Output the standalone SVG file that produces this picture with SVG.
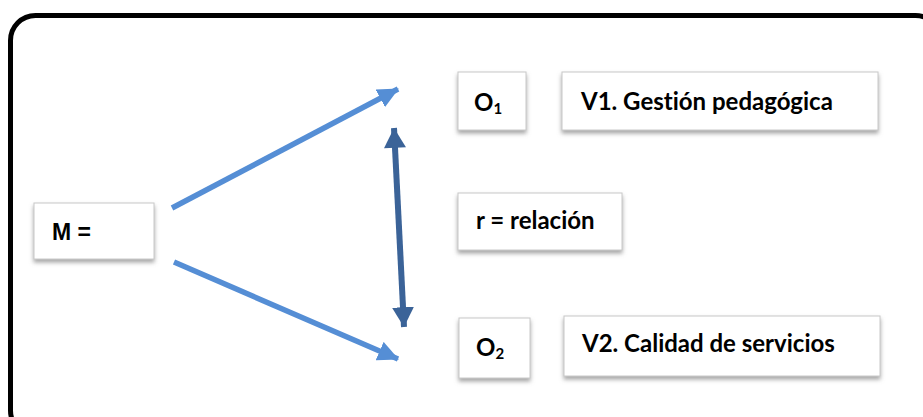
<svg xmlns="http://www.w3.org/2000/svg" width="923" height="417" viewBox="0 0 923 417">
<style>
.box{fill:#ffffff;stroke:#c8c8c8;stroke-width:1;filter:url(#sh)}
.t{font-family:Lato,"Open Sans","Liberation Sans",sans-serif;font-weight:bold;font-size:24px;fill:#000;font-variant-ligatures:none}
.m{font-family:"Liberation Sans",Arial,sans-serif;font-size:23px}
.sub{font-size:15px}
.a1{stroke:#558ed5;stroke-width:5.5;fill:none}
.a2{stroke:#3b6398;stroke-width:6;fill:none}
</style>
<defs>
<filter id="sh" x="-20%" y="-20%" width="140%" height="160%">
<feDropShadow dx="0" dy="3" stdDeviation="2" flood-color="#7f7f7f" flood-opacity="0.7"/>
</filter>
<marker id="h1" markerUnits="userSpaceOnUse" markerWidth="24" markerHeight="20" refX="20" refY="10" orient="auto" viewBox="0 0 24 20">
<path d="M0,0 L21,10 L0,20 Z" fill="#558ed5"/>
</marker>
<marker id="h2e" markerUnits="userSpaceOnUse" markerWidth="22" markerHeight="22" refX="18" refY="10" orient="auto" viewBox="0 0 20 20">
<path d="M0,0 L18,10 L0,20 Z" fill="#3b6398"/>
</marker>
<marker id="h2s" markerUnits="userSpaceOnUse" markerWidth="22" markerHeight="22" refX="0" refY="10" orient="auto" viewBox="0 0 20 20">
<path d="M18,0 L0,10 L18,20 Z" fill="#3b6398"/>
</marker>
</defs>
<rect x="0" y="0" width="923" height="417" fill="#ffffff"/>
<rect id="frame" x="10.5" y="15.5" width="930" height="420" rx="25" ry="25" fill="none" stroke="#000" stroke-width="5"/>
<g id="connectors">
<line class="a1" x1="172" y1="208" x2="398" y2="89" marker-end="url(#h1)"/>
<line class="a1" x1="174" y1="262" x2="398" y2="359" marker-end="url(#h1)"/>
<line class="a2" x1="394" y1="128" x2="404" y2="327" marker-start="url(#h2s)" marker-end="url(#h2e)"/>
</g>
<g id="M">
<rect class="box" x="34" y="203" width="120" height="56"/>
<text class="t m" x="52" y="240">M =</text>
</g>
<g id="O1">
<rect class="box" x="458" y="72" width="68" height="58"/>
<text class="t" x="474" y="111">O<tspan class="sub" dy="3">1</tspan></text>
</g>
<g id="V1">
<rect class="box" x="562" y="72" width="316" height="58"/>
<text class="t" x="581" y="110">V1. Gestión pedagógica</text>
</g>
<g id="r">
<rect class="box" x="458" y="193" width="164" height="57"/>
<text class="t" x="476" y="229">r = relación</text>
</g>
<g id="O2">
<rect class="box" x="459" y="318" width="71" height="60"/>
<text class="t" x="476" y="356">O<tspan class="sub" dy="3">2</tspan></text>
</g>
<g id="V2">
<rect class="box" x="564" y="316" width="316" height="60"/>
<text class="t" x="582" y="352">V2. Calidad de servicios</text>
</g>
</svg>
